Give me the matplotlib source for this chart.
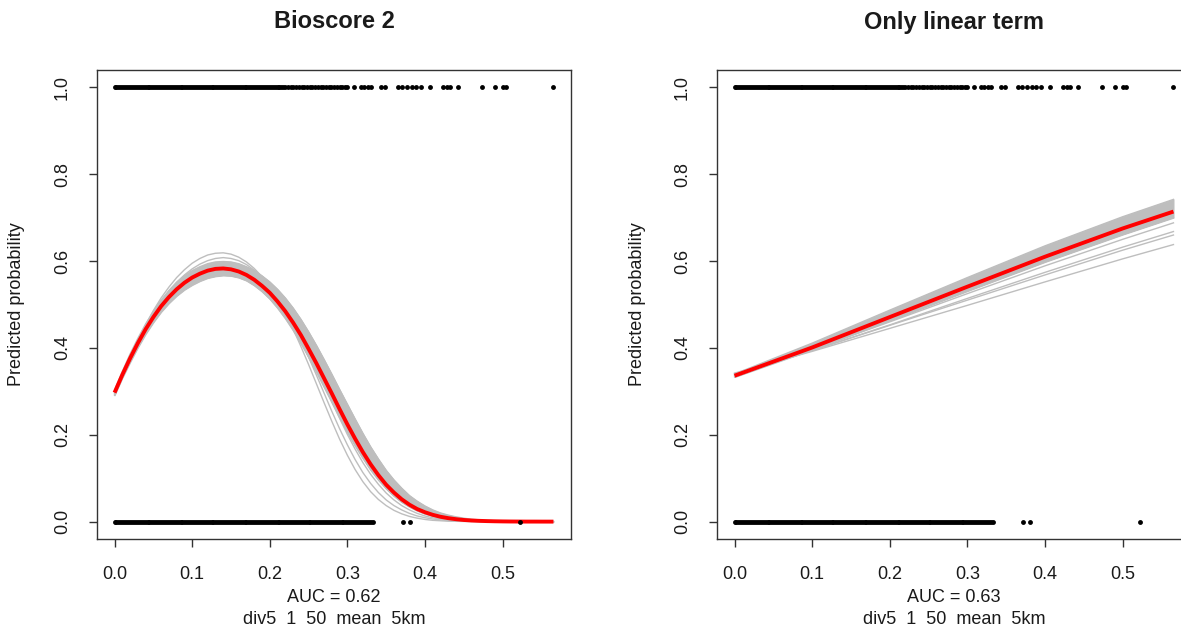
import matplotlib
matplotlib.use("Agg")
import matplotlib.pyplot as plt

plt.rcParams['font.family'] = ['Liberation Sans', 'DejaVu Sans']

# ---------------- data ----------------
titles = ["Bioscore 2", "Only linear term"]
auc_labels = ["AUC = 0.62", "AUC = 0.63"]
subtitle = "div5  1  50  mean  5km"
ylabel = "Predicted probability"
xticks = [0.0, 0.1, 0.2, 0.3, 0.4, 0.5]
yticks = [0.0, 0.2, 0.4, 0.6, 0.8, 1.0]

# observed presences (y = 1)
pres_x = [0.0000, 0.0025, 0.0050, 0.0075, 0.0100, 0.0125, 0.0150, 0.0175, 0.0200, 0.0225,
          0.0250, 0.0275, 0.0300, 0.0325, 0.0350, 0.0375, 0.0400, 0.0425, 0.0450, 0.0475,
          0.0500, 0.0525, 0.0550, 0.0575, 0.0600, 0.0625, 0.0650, 0.0675, 0.0700, 0.0725,
          0.0750, 0.0775, 0.0800, 0.0825, 0.0850, 0.0875, 0.0900, 0.0925, 0.0950, 0.0975,
          0.1000, 0.1025, 0.1050, 0.1075, 0.1100, 0.1125, 0.1150, 0.1175, 0.1200, 0.1225,
          0.1250, 0.1275, 0.1300, 0.1325, 0.1350, 0.1375, 0.1400, 0.1425, 0.1450, 0.1475,
          0.1500, 0.1525, 0.1550, 0.1575, 0.1600, 0.1625, 0.1650, 0.1675, 0.1700, 0.1725,
          0.1750, 0.1775, 0.1800, 0.1825, 0.1850, 0.1875, 0.1900, 0.1925, 0.1950, 0.1975,
          0.2000, 0.2025, 0.2050, 0.2075, 0.2100, 0.2125, 0.2150, 0.2175, 0.2200,
          0.2235, 0.2270, 0.2305, 0.2340, 0.2375, 0.2410, 0.2445, 0.2480, 0.2515, 0.2550,
          0.2585, 0.2620, 0.2655, 0.2690, 0.2725, 0.2760, 0.2795, 0.2830, 0.2865, 0.2900,
          0.2935, 0.2970, 0.2990,
          0.309, 0.318, 0.322, 0.327, 0.331, 0.344, 0.348, 0.365, 0.371, 0.377,
          0.383, 0.389, 0.395, 0.406, 0.423, 0.428, 0.432, 0.442, 0.473, 0.490,
          0.500, 0.505, 0.5656]
# observed absences (y = 0)
abs_x = [0.0000, 0.0025, 0.0050, 0.0075, 0.0100, 0.0125, 0.0150, 0.0175, 0.0200, 0.0225,
         0.0250, 0.0275, 0.0300, 0.0325, 0.0350, 0.0375, 0.0400, 0.0425, 0.0450, 0.0475,
         0.0500, 0.0525, 0.0550, 0.0575, 0.0600, 0.0625, 0.0650, 0.0675, 0.0700, 0.0725,
         0.0750, 0.0775, 0.0800, 0.0825, 0.0850, 0.0875, 0.0900, 0.0925, 0.0950, 0.0975,
         0.1000, 0.1025, 0.1050, 0.1075, 0.1100, 0.1125, 0.1150, 0.1175, 0.1200, 0.1225,
         0.1250, 0.1275, 0.1300, 0.1325, 0.1350, 0.1375, 0.1400, 0.1425, 0.1450, 0.1475,
         0.1500, 0.1525, 0.1550, 0.1575, 0.1600, 0.1625, 0.1650, 0.1675, 0.1700, 0.1725,
         0.1750, 0.1775, 0.1800, 0.1825, 0.1850, 0.1875, 0.1900, 0.1925, 0.1950, 0.1975,
         0.2000, 0.2025, 0.2050, 0.2075, 0.2100, 0.2125, 0.2150, 0.2175, 0.2200, 0.2225,
         0.2250, 0.2275, 0.2300, 0.2325, 0.2350, 0.2375, 0.2400, 0.2425, 0.2450, 0.2475,
         0.2500, 0.2525, 0.2550, 0.2575, 0.2600, 0.2625, 0.2650, 0.2675, 0.2700, 0.2725,
         0.2750, 0.2775, 0.2800, 0.2825, 0.2850, 0.2875, 0.2900, 0.2925, 0.2950, 0.2975,
         0.3000, 0.3025, 0.3050, 0.3075, 0.3100, 0.3125, 0.3150, 0.3175, 0.3200, 0.3225,
         0.3250, 0.3275, 0.3300, 0.3325,
         0.372, 0.381, 0.522]

# ---- left panel: quadratic model curves ----
xg_left = [0.00, 0.01, 0.02, 0.03, 0.04, 0.05, 0.06, 0.07, 0.08, 0.09,
           0.10, 0.11, 0.12, 0.13, 0.14, 0.15, 0.16, 0.17, 0.18, 0.19,
           0.20, 0.21, 0.22, 0.23, 0.24, 0.25, 0.26, 0.27, 0.28, 0.29,
           0.30, 0.31, 0.32, 0.33, 0.34, 0.35, 0.36, 0.37, 0.38, 0.39,
           0.40, 0.41, 0.42, 0.43, 0.44, 0.45, 0.46, 0.47, 0.48, 0.49,
           0.50, 0.51, 0.52, 0.53, 0.54, 0.55, 0.56, 0.5656]
red_left = [0.297, 0.338, 0.376, 0.411, 0.443, 0.471, 0.496, 0.517, 0.535, 0.550,
            0.562, 0.571, 0.578, 0.582, 0.583, 0.581, 0.576, 0.568, 0.557, 0.543,
            0.527, 0.507, 0.4845, 0.4585, 0.430, 0.398, 0.365, 0.330, 0.295, 0.259,
            0.224, 0.191, 0.160, 0.132, 0.107, 0.085, 0.067, 0.0515, 0.039, 0.029,
            0.0216, 0.0157, 0.0112, 0.008, 0.0056, 0.0038, 0.0026, 0.0018, 0.0012, 0.0008,
            0.0005, 0.0003, 0.0002, 0.0001, 0.0001, 0.00005, 0.00003, 0.00002]
band_hi_left = [0.303, 0.346, 0.386, 0.422, 0.455, 0.484, 0.510, 0.532, 0.551, 0.566,
                0.578, 0.587, 0.594, 0.598, 0.599, 0.598, 0.594, 0.587, 0.578, 0.566,
                0.552, 0.535, 0.515, 0.492, 0.466, 0.437, 0.406, 0.373, 0.339, 0.304,
                0.270, 0.236, 0.203, 0.172, 0.144, 0.118, 0.096, 0.077, 0.060, 0.047,
                0.036, 0.027, 0.020, 0.015, 0.011, 0.008, 0.0055, 0.004, 0.0028, 0.002,
                0.0014, 0.001, 0.0007, 0.0005, 0.0003, 0.0002, 0.0001, 0.0001]
band_lo_left = [0.291, 0.331, 0.367, 0.401, 0.432, 0.459, 0.483, 0.503, 0.520, 0.534,
                0.545, 0.554, 0.561, 0.565, 0.567, 0.566, 0.562, 0.555, 0.544, 0.530,
                0.513, 0.492, 0.468, 0.441, 0.411, 0.379, 0.345, 0.310, 0.275, 0.240,
                0.206, 0.175, 0.146, 0.119, 0.096, 0.076, 0.059, 0.045, 0.034, 0.025,
                0.018, 0.013, 0.009, 0.0065, 0.0045, 0.003, 0.002, 0.0013, 0.0009, 0.0006,
                0.0004, 0.0002, 0.0001, 0.0001, 0.0, 0.0, 0.0, 0.0]
boot_left_1 = [0.293, 0.337, 0.378, 0.417, 0.453, 0.486, 0.515, 0.540, 0.562, 0.580,
               0.595, 0.606, 0.614, 0.618, 0.619, 0.616, 0.609, 0.598, 0.583, 0.564,
               0.540, 0.512, 0.480, 0.444, 0.404, 0.362, 0.318, 0.274, 0.231, 0.190,
               0.153, 0.120, 0.092, 0.069, 0.051, 0.037, 0.026, 0.018, 0.012, 0.008,
               0.005, 0.003, 0.002, 0.001, 0.0007, 0.0004, 0.0002, 0.0001, 0.0, 0.0,
               0.0, 0.0, 0.0, 0.0, 0.0, 0.0, 0.0, 0.0]
boot_left_2 = [0.295, 0.338, 0.378, 0.415, 0.449, 0.480, 0.507, 0.531, 0.551, 0.568,
               0.582, 0.593, 0.601, 0.606, 0.608, 0.606, 0.601, 0.592, 0.579, 0.562,
               0.541, 0.516, 0.487, 0.454, 0.418, 0.379, 0.338, 0.296, 0.254, 0.214,
               0.177, 0.143, 0.113, 0.088, 0.067, 0.050, 0.037, 0.027, 0.019, 0.013,
               0.009, 0.006, 0.004, 0.0025, 0.0016, 0.001, 0.0006, 0.0004, 0.0002, 0.0001,
               0.0, 0.0, 0.0, 0.0, 0.0, 0.0, 0.0, 0.0]
boot_left_3 = [0.300, 0.341, 0.379, 0.414, 0.446, 0.475, 0.501, 0.523, 0.542, 0.558,
               0.571, 0.581, 0.588, 0.592, 0.593, 0.592, 0.588, 0.580, 0.569, 0.554,
               0.536, 0.514, 0.488, 0.459, 0.426, 0.391, 0.354, 0.315, 0.276, 0.238,
               0.201, 0.167, 0.136, 0.109, 0.086, 0.066, 0.050, 0.037, 0.027, 0.019,
               0.013, 0.009, 0.006, 0.004, 0.0026, 0.0017, 0.001, 0.0006, 0.0004, 0.0002,
               0.0001, 0.0, 0.0, 0.0, 0.0, 0.0, 0.0, 0.0]

# ---- right panel: linear-term model curves ----
xg_right = [0.0, 0.1, 0.2, 0.3, 0.4, 0.5, 0.5656]
red_right = [0.336, 0.401, 0.471, 0.541, 0.610, 0.675, 0.714]
band_hi_right = [0.340, 0.411, 0.487, 0.562, 0.635, 0.702, 0.742]
band_lo_right = [0.333, 0.396, 0.463, 0.531, 0.598, 0.661, 0.700]
boot_right_1 = [0.336, 0.396, 0.460, 0.525, 0.589, 0.650, 0.688]
boot_right_2 = [0.338, 0.394, 0.453, 0.514, 0.574, 0.632, 0.668]
boot_right_3 = [0.340, 0.394, 0.452, 0.510, 0.568, 0.625, 0.660]
boot_right_4 = [0.342, 0.392, 0.445, 0.498, 0.552, 0.605, 0.638]

# ---------------- figure ----------------
W, H = 1181, 632
fig = plt.figure(figsize=(W / 100, H / 100), dpi=100)

GREY = "#bebebe"
RED = "#ff0000"
INK = "#1a1a1a"


def px_axes(left, top, right, bottom):
    return [left / W, 1 - bottom / H, (right - left) / W, (bottom - top) / H]


ax_l = fig.add_axes(px_axes(97, 70, 571, 539))
ax_r = fig.add_axes(px_axes(717, 70, 1191, 539))

panels = [
    (ax_l, xg_left, red_left, band_lo_left, band_hi_left,
     [boot_left_1, boot_left_2, boot_left_3]),
    (ax_r, xg_right, red_right, band_lo_right, band_hi_right,
     [boot_right_1, boot_right_2, boot_right_3, boot_right_4]),
]

for i, (ax, xg, red, lo, hi, boots) in enumerate(panels):
    ax.fill_between(xg, lo, hi, color=GREY, linewidth=0.8, edgecolor=GREY, zorder=1)
    ax.plot(xg, lo, color=GREY, lw=1.0, zorder=1)
    ax.plot(xg, hi, color=GREY, lw=1.0, zorder=1)
    for b in boots:
        ax.plot(xg, b, color=GREY, lw=1.0, zorder=1)
    ax.plot(xg, red, color=RED, lw=2.8, zorder=3, solid_capstyle='butt')

    ax.plot(pres_x, [1.0] * len(pres_x), 'o', color='black', ms=3.5, mew=0, zorder=4)
    ax.plot(abs_x, [0.0] * len(abs_x), 'o', color='black', ms=3.5, mew=0, zorder=4)

    ax.set_xlim(-0.02262, 0.58822)
    ax.set_ylim(-0.04, 1.04)
    ax.set_xticks(xticks)
    ax.set_xticklabels([f"{t:.1f}" for t in xticks])
    ax.set_yticks(yticks)
    ax.set_yticklabels([f"{t:.1f}" for t in yticks])
    ax.tick_params(axis='both', direction='out', length=5.5, width=1.0,
                   color='#333333', labelsize=13, labelcolor=INK)
    ax.tick_params(axis='x', pad=14)
    ax.tick_params(axis='y', pad=19.5)
    for lab in ax.get_yticklabels():
        lab.set_rotation(90)
        lab.set_ha('center')
        lab.set_va('center')
    for sp in ax.spines.values():
        sp.set_linewidth(1.0)
        sp.set_color('#333333')

    ax.text(0.5, (539 - 22) / 469, titles[i], transform=ax.transAxes,
            ha='center', va='center', fontsize=17, fontweight='bold', color=INK)
    ax.text(-80 / 474, 0.5, ylabel, transform=ax.transAxes, rotation=90,
            ha='center', va='center', fontsize=13, color=INK)
    ax.text(0.5, -(598 - 539) / 469, auc_labels[i], transform=ax.transAxes,
            ha='center', va='center', fontsize=13, color=INK)
    ax.text(0.5, -(619.5 - 539) / 469, subtitle, transform=ax.transAxes,
            ha='center', va='center', fontsize=13, color=INK)

fig.savefig("out.png", dpi=100, facecolor='white')
